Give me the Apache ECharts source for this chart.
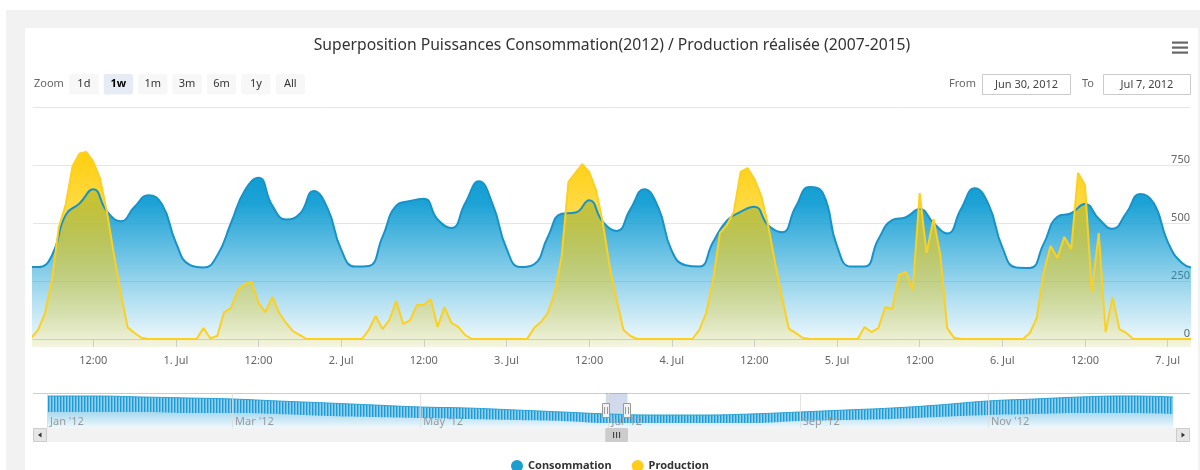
<!DOCTYPE html>
<html>
<head>
<meta charset="utf-8">
<script src="https://cdn.jsdelivr.net/npm/echarts@6/dist/echarts.min.js"></script>
<style>
  html, body { margin: 0; padding: 0; background: #fff; }
  #chart { width: 1200px; height: 470px; }
</style>
</head>
<body>
<div id="chart"></div>
<script>
const HOUR = 3600 * 1000
const FONT = 'Noto Sans'

// Consommation : un point toutes les 2 h, à partir du 30/06/2012 02:00
const consStart = new Date(2012, 5, 30, 2).getTime()
const consStep = 2 * HOUR
const consommation = [
  310, 310, 360, 535, 584, 645, 550, 508, 570, 620, 580,
  415, 319, 308, 360, 500, 640, 695, 575, 515, 540, 638, 565,
  385, 312, 315, 440, 575, 595, 605, 515, 478, 585, 680, 580,
  390, 310, 322, 440, 540, 545, 598, 505, 466, 560, 645, 570,
  380, 318, 312, 418, 510, 548, 570, 490, 460, 570, 655, 625,
  400, 312, 312, 430, 512, 525, 560, 500, 455, 560, 650, 580,
  395, 308, 306, 410, 527, 542, 582, 518, 475, 543, 625, 585,
  420, 330, 305,
]

// Production : horaire, à partir du 30/06/2012 02:00
const prodStart = new Date(2012, 5, 30, 2).getTime()
const prodStep = HOUR
const production = [
  0, 5, 39, 112, 254, 483, 580, 745, 800, 806, 765, 690, 545, 365, 195, 50, 26, 5, 0, 0, 0, 0,
  0, 0, 0, 0, 47, 3, 13, 116, 134, 211, 237, 246, 155, 116, 181, 112, 69, 34, 17, 0, 0, 0, 0, 0,
  0, 0, 0, 0, 39, 99, 43, 82, 164, 65, 80, 147, 147, 172, 52, 138, 69, 52, 17, 0, 0, 0, 0, 0,
  0, 0, 0, 0, 47, 73, 112, 198, 353, 677, 716, 754, 720, 642, 500, 310, 168, 39, 13, 0, 0, 0, 0, 0,
  0, 0, 0, 0, 39, 112, 254, 457, 491, 547, 720, 737, 690, 615, 490, 330, 181, 45, 26, 5, 0, 0, 0, 0,
  0, 0, 0, 0, 52, 30, 47, 138, 129, 276, 289, 211, 629, 370, 517, 362, 47, 5, 0, 0, 0, 0, 0, 0,
  0, 0, 0, 0, 26, 91, 284, 401, 349, 440, 388, 716, 664, 203, 457, 30, 181, 43, 26, 0, 0, 0, 0, 0,
  0, 0, 0, 0, 0,
]

// navigateur : enveloppe haute / basse de la consommation sur l'année
const navDates = [
  '2012-01-01', '2012-01-16', '2012-02-01', '2012-02-16', '2012-03-01', '2012-03-16',
  '2012-04-01', '2012-04-16', '2012-05-01', '2012-05-16', '2012-06-01', '2012-06-16',
  '2012-07-01', '2012-07-16', '2012-08-01', '2012-08-16', '2012-09-01', '2012-09-16',
  '2012-10-01', '2012-10-16', '2012-11-01', '2012-11-16', '2012-12-01', '2012-12-16', '2012-12-31',
]
const navHigh = [
  1498, 1498, 1454, 1410, 1366, 1278, 1190, 1102, 1014, 970, 882, 794,
  706, 662, 662, 706, 794, 882, 970, 1102, 1278, 1366, 1454, 1498, 1454,
]
const navLow = [
  794, 794, 794, 750, 750, 706, 618, 574, 530, 486, 442, 398,
  310, 310, 310, 310, 398, 442, 486, 574, 662, 706, 750, 750, 706,
]
const navMonths = ['2012-01-01', '2012-03-01', '2012-05-01', '2012-07-01', '2012-09-01', '2012-11-01']

const yTicks = [0, 250, 500, 750, 1000]
const yLabels = [0, 250, 500, 750]
const monthsEn = ['Jan', 'Feb', 'Mar', 'Apr', 'May', 'Jun', 'Jul', 'Aug', 'Sep', 'Oct', 'Nov', 'Dec']
const zoomButtons = ['1d', '1w', '1m', '3m', '6m', '1y', 'All']
const zoomSelected = '1w'
const fromText = 'Jun 30, 2012'
const toText = 'Jul 7, 2012'

const viewFrom = new Date(2012, 5, 30, 3, 15).getTime()
const viewTo = new Date(2012, 6, 7, 3, 15).getTime()
const yearStart = new Date(2012, 0, 1).getTime()
const yearEnd = new Date(2012, 11, 31, 23).getTime()

const day = s => {
  const [y, m, d] = s.split('-').map(Number)
  return new Date(y, m - 1, d).getTime()
}
const toPairs = (start, step, values) => values.map((v, i) => [start + i * step, v])

const mainTicks = []
for (let t = new Date(2012, 5, 30, 12).getTime(); t <= viewTo; t += 12 * HOUR) mainTicks.push(t)
const navTicks = navMonths.map(day)

const navMin = 90
const navMax = 1630

const gradient = stops => ({
  type: 'linear', x: 0, y: 0, x2: 0, y2: 1,
  colorStops: stops.map(([offset, color]) => ({ offset, color })),
})

// motif rayé pour imiter les oscillations journalières du navigateur
const stripe = document.createElement('canvas')
stripe.width = 3
stripe.height = 40
const sctx = stripe.getContext('2d')
sctx.fillStyle = '#8fd0ee'
sctx.fillRect(0, 0, 3, 40)
sctx.fillStyle = '#1e9bd2'
sctx.fillRect(0, 0, 1.4, 40)

const chart = echarts.init(document.getElementById('chart'))

const option = {
  animation: false,
  textStyle: { fontFamily: FONT },
  title: {
    text: 'Superposition Puissances Consommation(2012) / Production réalisée (2007-2015)',
    left: 607,
    top: 33,
    textAlign: 'center',
    textStyle: { fontSize: 15.7, fontWeight: 'normal', color: '#333', fontFamily: FONT },
  },
  legend: {
    data: ['Consommation', 'Production'],
    left: 506,
    top: 455,
    icon: 'circle',
    itemWidth: 12,
    itemHeight: 12,
    itemGap: 20,
    textStyle: { fontSize: 11, fontWeight: 'bold', color: '#333', fontFamily: FONT },
  },
  grid: [
    { left: 33, right: 10, top: 107, height: 240 },
    { left: 47, width: 1129, top: 393, height: 35 },
  ],
  xAxis: [
    {
      type: 'value',
      gridIndex: 0,
      min: viewFrom,
      max: viewTo,
      axisLine: { lineStyle: { color: '#ccd6eb' } },
      axisTick: { length: 8, lineStyle: { color: '#ccd6eb' }, customValues: mainTicks },
      axisLabel: {
        customValues: mainTicks,
        color: '#666',
        fontSize: 11,
        margin: 8,
        formatter: v => {
          const d = new Date(v)
          return d.getHours() === 0 ? d.getDate() + '. ' + monthsEn[d.getMonth()] : '12:00'
        },
      },
      splitLine: { show: false },
    },
    {
      type: 'value',
      gridIndex: 1,
      z: 5,
      min: yearStart,
      max: yearEnd,
      axisLine: { show: false },
      axisTick: { show: false, customValues: navTicks },
      axisLabel: {
        customValues: navTicks,
        inside: true,
        align: 'left',
        margin: 1,
        padding: [0, 0, 0, 3],
        color: '#999',
        fontSize: 11,
        formatter: v => monthsEn[new Date(v).getMonth()] + " '12",
      },
      splitLine: { show: true, lineStyle: { color: 'rgba(220,220,220,0.8)' } },
    },
  ],
  yAxis: [
    {
      type: 'value',
      gridIndex: 0,
      position: 'right',
      min: -34.5,
      max: 1000,
      axisLine: { show: false },
      axisTick: { show: false, customValues: yTicks },
      axisLabel: {
        customValues: yLabels,
        inside: true,
        margin: 0,
        verticalAlign: 'bottom',
        color: '#666',
        fontSize: 11,
      },
      splitLine: { show: true, lineStyle: { color: '#e6e6e6' } },
    },
    { type: 'value', gridIndex: 1, min: navMin, max: navMax, show: false },
  ],
  series: [
    {
      name: 'Consommation',
      type: 'line',
      smooth: true,
      showSymbol: false,
      color: '#1b9dd2',
      lineStyle: { width: 2, color: '#1793c9' },
      areaStyle: {
        origin: 'start',
        opacity: 1,
        color: gradient([
          [0, 'rgba(17,157,211,1)'],
          [0.15, 'rgba(17,157,211,0.95)'],
          [0.45, 'rgba(17,157,211,0.62)'],
          [0.72, 'rgba(17,157,211,0.32)'],
          [1, 'rgba(17,157,211,0.04)'],
        ]),
      },
      data: toPairs(consStart, consStep, consommation),
    },
    {
      name: 'Production',
      type: 'line',
      showSymbol: false,
      color: '#ffcc1a',
      lineStyle: { width: 2, color: '#fdd020' },
      areaStyle: {
        origin: 'start',
        opacity: 1,
        color: gradient([
          [0, 'rgba(255,204,0,0.95)'],
          [0.35, 'rgba(255,204,0,0.68)'],
          [0.75, 'rgba(255,204,0,0.36)'],
          [1, 'rgba(255,204,0,0.12)'],
        ]),
      },
      data: toPairs(prodStart, prodStep, production),
    },
    {
      name: 'navHigh',
      type: 'line',
      xAxisIndex: 1,
      yAxisIndex: 1,
      smooth: true,
      showSymbol: false,
      lineStyle: { width: 1, color: '#2aa3d6' },
      areaStyle: { origin: 'start', opacity: 1, color: { image: stripe, repeat: 'repeat' } },
      markArea: {
        silent: true,
        itemStyle: { color: 'rgba(102,133,194,0.3)' },
        data: [[{ xAxis: viewFrom }, { xAxis: viewTo }]],
      },
      data: navDates.map((d, i) => [day(d), navHigh[i]]),
    },
    {
      name: 'navLow',
      type: 'line',
      xAxisIndex: 1,
      yAxisIndex: 1,
      smooth: true,
      showSymbol: false,
      lineStyle: { width: 0 },
      areaStyle: {
        origin: 'start',
        opacity: 1,
        color: gradient([[0, '#a8d9ef'], [1, '#f0f8fc']]),
      },
      data: navDates.map((d, i) => [day(d), navLow[i]]),
    },
  ],
}

chart.setOption(option)

// éléments d'interface (fond, boutons, champs de date, barre de défilement)
const els = [
  { type: 'rect', id: 'frame', z: -20, shape: { x: 6, y: 10, width: 1194, height: 460 }, style: { fill: '#f2f2f2' } },
  { type: 'rect', id: 'card', z: -19, shape: { x: 25, y: 28, width: 1173, height: 442 }, style: { fill: '#fff' } },
  { type: 'text', id: 'zoomLbl', x: 34, y: 84, style: { text: 'Zoom', fill: '#666', fontSize: 11, fontFamily: FONT, verticalAlign: 'middle' } },
]
zoomButtons.forEach((b, i) => {
  const x = 69.3 + i * 34.4
  const sel = b === zoomSelected
  els.push({ type: 'rect', id: 'btn' + i, shape: { x, y: 74, width: 29.3, height: 20.5, r: 2 }, style: { fill: sel ? '#e6ebf5' : '#f7f7f7' } })
  els.push({ type: 'text', id: 'btnT' + i, x: x + 14.6, y: 84.3, style: { text: b, fill: sel ? '#000' : '#333', fontSize: 11, fontWeight: sel ? 'bold' : 'normal', fontFamily: FONT, align: 'center', verticalAlign: 'middle' } })
})
els.push(
  { type: 'text', id: 'fromLbl', x: 949, y: 84, style: { text: 'From', fill: '#666', fontSize: 11, fontFamily: FONT, verticalAlign: 'middle' } },
  { type: 'rect', id: 'fromBox', shape: { x: 982.5, y: 74.5, width: 88, height: 20 }, style: { fill: '#fff', stroke: '#ccc', lineWidth: 1 } },
  { type: 'text', id: 'fromTxt', x: 1026.5, y: 84.5, style: { text: fromText, fill: '#444', fontSize: 11, fontFamily: FONT, align: 'center', verticalAlign: 'middle' } },
  { type: 'text', id: 'toLbl', x: 1082, y: 84, style: { text: 'To', fill: '#666', fontSize: 11, fontFamily: FONT, verticalAlign: 'middle' } },
  { type: 'rect', id: 'toBox', shape: { x: 1103.5, y: 74.5, width: 87, height: 20 }, style: { fill: '#fff', stroke: '#ccc', lineWidth: 1 } },
  { type: 'text', id: 'toTxt', x: 1147, y: 84.5, style: { text: toText, fill: '#444', fontSize: 11, fontFamily: FONT, align: 'center', verticalAlign: 'middle' } },
)
;[41.5, 46.5, 51.5].forEach((y, i) => {
  els.push({ type: 'rect', id: 'menu' + i, shape: { x: 1172, y, width: 16, height: 2.2 }, style: { fill: '#666' } })
})

// navigateur : contour, barre de défilement, poignées
const wx0 = chart.convertToPixel({ xAxisIndex: 1 }, viewFrom)
const wx1 = chart.convertToPixel({ xAxisIndex: 1 }, viewTo)
const cx = (wx0 + wx1) / 2
els.push(
  { type: 'line', id: 'navTop', shape: { x1: 33, y1: 393.5, x2: 1190, y2: 393.5 }, style: { stroke: '#ccc', lineWidth: 1 } },
  { type: 'rect', id: 'track', shape: { x: 33, y: 428, width: 1157, height: 14 }, style: { fill: '#f2f2f2' } },
  { type: 'rect', id: 'btnL', shape: { x: 33.5, y: 428.5, width: 13, height: 13 }, style: { fill: '#e6e6e6', stroke: '#ccc' } },
  { type: 'polygon', id: 'arrL', shape: { points: [[38, 435], [41.5, 432.5], [41.5, 437.5]] }, style: { fill: '#333' } },
  { type: 'rect', id: 'btnR', shape: { x: 1176.5, y: 428.5, width: 13, height: 13 }, style: { fill: '#e6e6e6', stroke: '#ccc' } },
  { type: 'polygon', id: 'arrR', shape: { points: [[1185, 435], [1181.5, 432.5], [1181.5, 437.5]] }, style: { fill: '#333' } },
  { type: 'rect', id: 'thumb', shape: { x: wx0, y: 428.5, width: wx1 - wx0, height: 13 }, style: { fill: '#cccccc', stroke: '#cccccc' } },
)
;[-3, 0, 3].forEach((d, i) => {
  els.push({ type: 'rect', id: 'grip' + i, shape: { x: cx + d - 0.5, y: 432, width: 1, height: 6 }, style: { fill: '#333' } })
})
;[wx0, wx1].forEach((x, i) => {
  els.push({ type: 'rect', id: 'hdl' + i, z: 10, shape: { x: Math.round(x) - 3.5, y: 403.5, width: 7, height: 14 }, style: { fill: '#f2f2f2', stroke: '#999', lineWidth: 1 } })
  els.push({ type: 'line', id: 'hdlA' + i, z: 11, shape: { x1: Math.round(x) - 1.5, y1: 407, x2: Math.round(x) - 1.5, y2: 414 }, style: { stroke: '#999', lineWidth: 1 } })
  els.push({ type: 'line', id: 'hdlB' + i, z: 11, shape: { x1: Math.round(x) + 1.5, y1: 407, x2: Math.round(x) + 1.5, y2: 414 }, style: { stroke: '#999', lineWidth: 1 } })
})

chart.setOption({ graphic: { elements: els } })
</script>
</body>
</html>
